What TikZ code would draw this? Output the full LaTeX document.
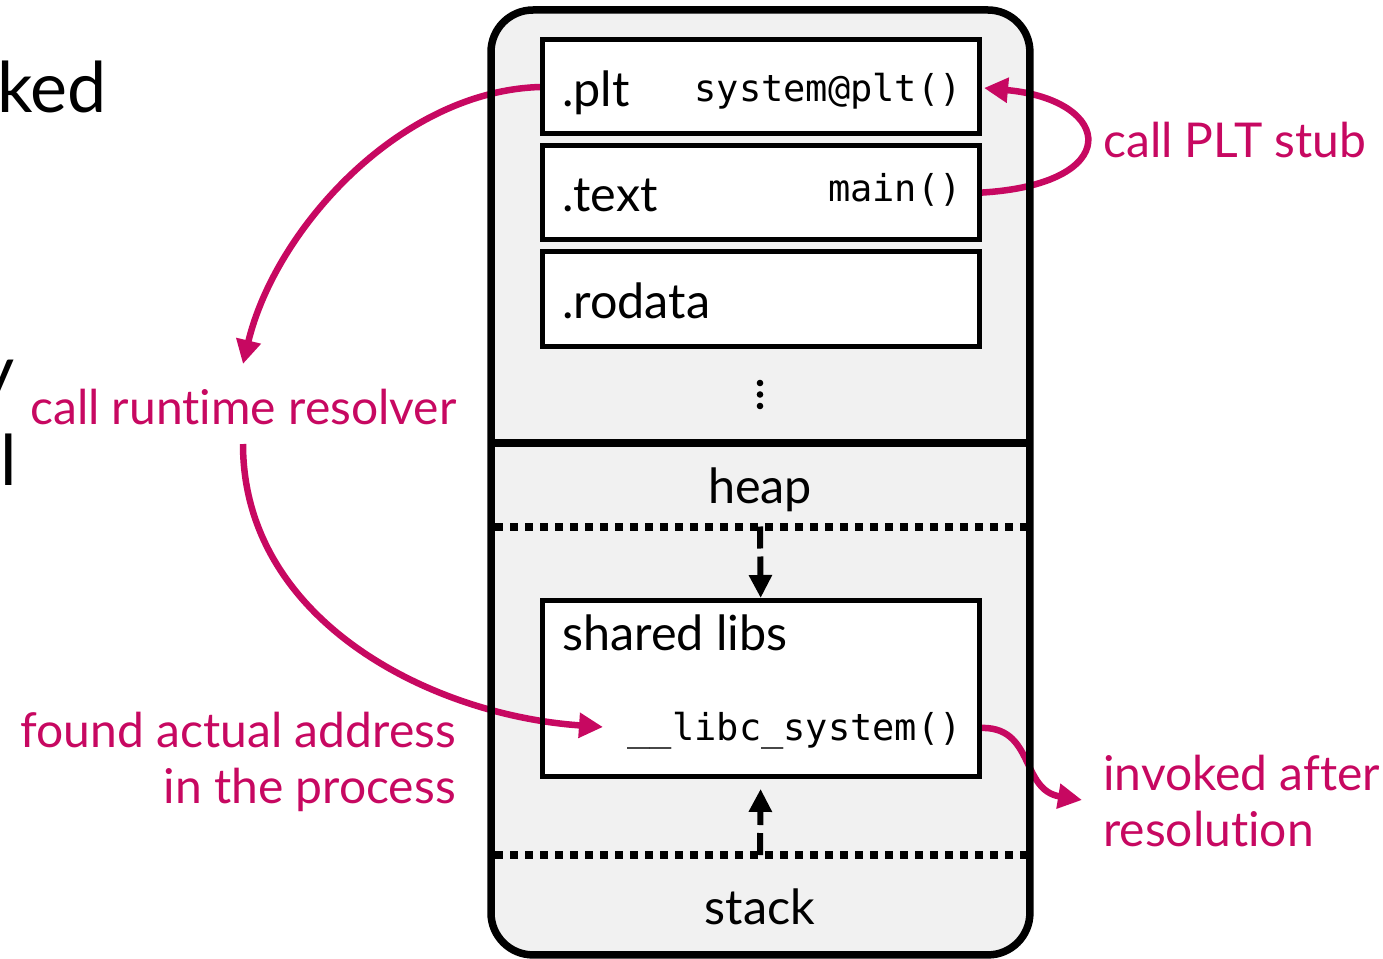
\documentclass[tikz,border=0pt]{standalone}
\usepackage{fontspec}
\setmainfont{Lato}[Ligatures={NoCommon,NoRare}]
\setmonofont{DejaVu Sans Mono}
\usetikzlibrary{arrows.meta}
\definecolor{accent}{RGB}{199,8,97}
\definecolor{panel}{RGB}{241,241,241}
\tikzset{
  procbox/.style={fill=panel, inner sep=0pt, rounded corners=42pt},
  segbox/.style={fill=white, inner sep=0pt, minimum width=437pt, anchor=north west},
  boxline/.style={line width=5pt},
  lbl/.style={font=\fontsize{48.5}{58}\selectfont, inner sep=0pt},
  codelbl/.style={font=\ttfamily\fontsize{37}{44}\selectfont, inner sep=0pt},
  notelbl/.style={font=\fontsize{48}{56}\selectfont, text=accent, inner sep=0pt},
  fraglbl/.style={font=\fontsize{70}{80}\selectfont, inner sep=0pt},
  flowarrow/.style={draw=accent, line width=6.5pt, -{Triangle[length=24pt,width=24pt]}},
  growarrow/.style={line width=6pt, dash pattern=on 22pt off 8pt, -{Triangle[length=23pt,width=22pt]}},
  limitline/.style={line width=8pt, dash pattern=on 7.5pt off 7.5pt},
}
\begin{document}
\begin{tikzpicture}[x=1pt,y=-1pt]
\useasboundingbox (0,0) rectangle (1383,958);
\clip (0,0) rectangle (1383,958);

% cut-off words of the running text on the left
\node[fraglbl, anchor=base east] (w1) at (107,112) {ked};
\node[fraglbl, anchor=base east] (w2) at (15,395) {y};
\node[fraglbl, anchor=base west] (w3) at (0,485) {l};

% process address space
\node[procbox, minimum width=538.5pt, minimum height=944.5pt, anchor=north west] (space) at (491,10) {};

% sections of the binary
\node[segbox, minimum height=93.5pt] (plt) at (542,40) {};
\node[segbox, minimum height=94pt] (text) at (542,145.5) {};
\node[segbox, minimum height=94.5pt] (rodata) at (542,251.5) {};
\node[segbox, minimum height=176.5pt] (shlib) at (542,600) {};

\node[lbl, anchor=base west] (pltname) at (562,106) {.plt};
\node[codelbl, anchor=base east] (pltfun) at (962,101) {system@plt()};
\node[lbl, anchor=base west] (textname) at (562,211) {.text};
\node[codelbl, anchor=base east] (mainfun) at (962,201) {main()};
\node[lbl, anchor=base west] (rodataname) at (562,318) {.rodata};
\fill (760,383) circle (3.3pt) (760,394.5) circle (3.3pt) (760,406) circle (3.3pt);

\node[lbl, anchor=base] (heap) at (760,503) {heap};
\node[lbl, anchor=base west] (shname) at (562,650) {shared libs};
\node[codelbl, anchor=base east] (libc) at (962,740) {\_\_libc\_system()};
\node[lbl, anchor=base] (stack) at (760,924) {stack};

% annotations
\node[notelbl, anchor=base west] (stub) at (1103,157) {call PLT stub};
\node[notelbl, anchor=base west] (resolver) at (30,424) {call runtime resolver};
\node[notelbl, anchor=base east] (found) at (456,747) {found actual address};
\node[notelbl, anchor=base east] (found2) at (456,803) {in the process};
\node[notelbl, anchor=base west] (invoked) at (1103,790) {invoked after};
\node[notelbl, anchor=base west] (invoked2) at (1103,846) {resolution};

\coordinate (rtop) at (243,364);
\coordinate (rbot) at (243,444);
\coordinate (libcin) at (603,727);
\coordinate (pltin) at (984,88);
\coordinate (libcout) at (979,728);
\coordinate (invin) at (1082,800);

% control flow
\draw[flowarrow] (plt.west) .. controls (400,90) and (275,230) .. (rtop);
\draw[flowarrow] (rbot) .. controls (243,620) and (430,715) .. (libcin);
\draw[flowarrow] (text.east) .. controls (1125,185) and (1115,100) .. (pltin);
\draw[flowarrow] (libcout) .. controls (1035,725) and (1020,790) .. (invin);

% outlines
\draw[line width=7.5pt, rounded corners=42pt] (space.north west) rectangle (space.south east);
\draw[line width=8pt] (space.west |- 0,443) -- (space.east |- 0,443);
\draw[limitline] (495,526.5) -- (1026,526.5);
\draw[limitline] (495,855) -- (1026,855);
\draw[growarrow, shorten >=2pt] (760,526.5) -- (shlib.north);
\draw[growarrow, shorten >=12pt] (760,855) -- (shlib.south);
\foreach \s in {plt,text,rodata,shlib}
  \draw[boxline] (\s.north west) rectangle (\s.south east);
\end{tikzpicture}
\end{document}
